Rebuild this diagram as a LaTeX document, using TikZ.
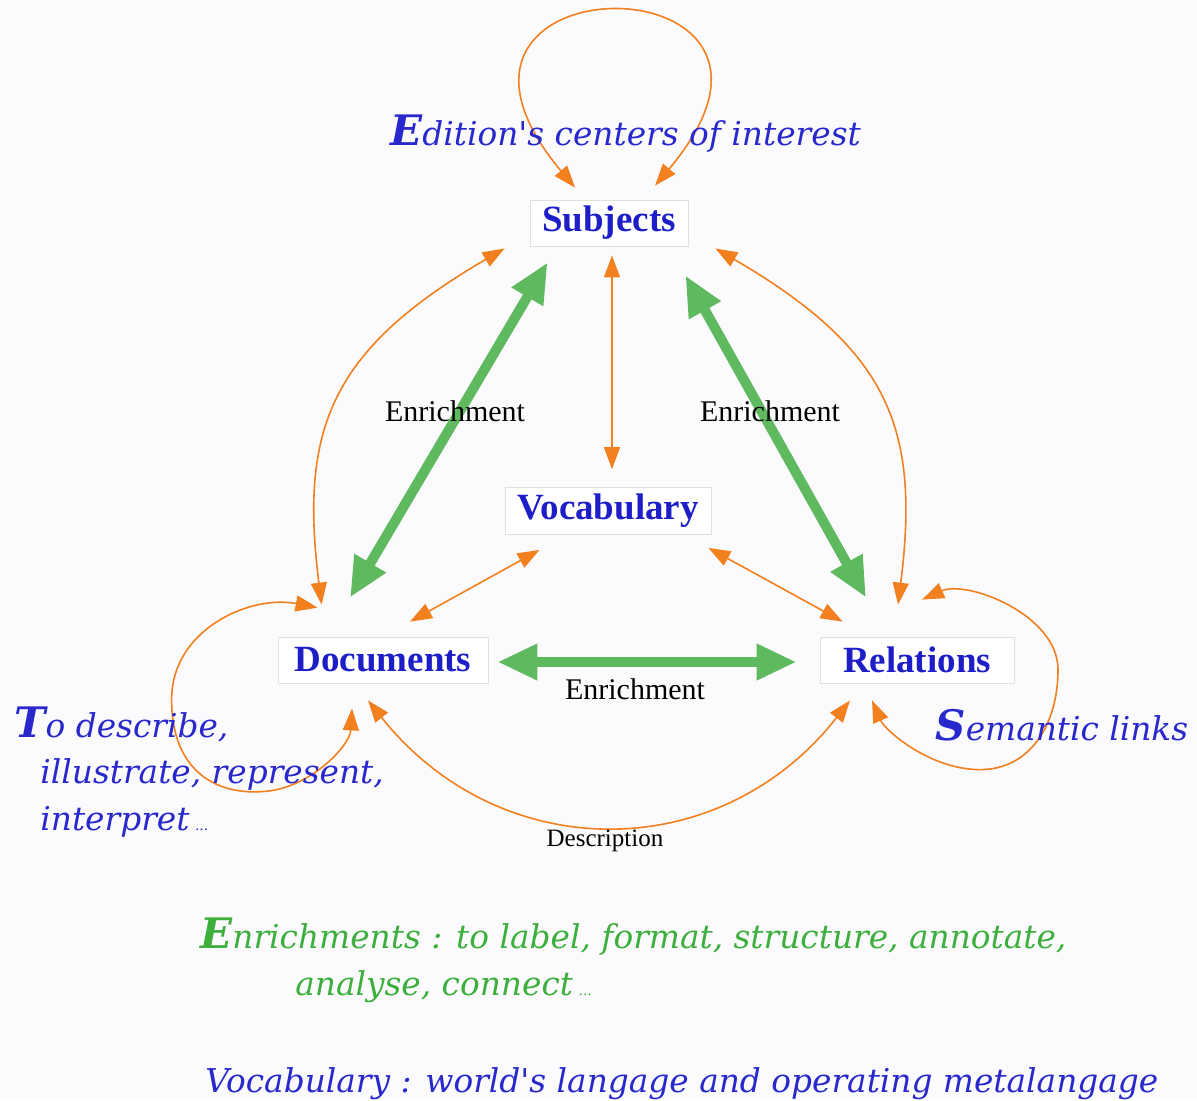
\documentclass[tikz,border=0pt]{standalone}
\usepackage{fontspec}
\setmainfont{Liberation Serif}
\newfontfamily\wideit{DejaVu Serif}
\usetikzlibrary{arrows.meta}
\definecolor{nodeblue}{RGB}{30,30,200}
\definecolor{itblue}{RGB}{40,40,205}
\definecolor{arrorange}{RGB}{242,128,30}
\definecolor{arrgreen}{RGB}{95,185,95}
\definecolor{txtgreen}{RGB}{60,175,60}
\definecolor{bggray}{RGB}{251,251,253}
\tikzset{
  concept/.style={draw=black!12, fill=white, inner sep=0pt,
    font=\fontsize{18.5}{20}\selectfont\bfseries, text=nodeblue},
  orarrow/.style={draw=arrorange, line width=0.8pt,
    {Triangle[length=11pt,width=8pt]}-{Triangle[length=11pt,width=8pt]}},
  grarrow/.style={draw=arrgreen, line width=5pt,
    {Triangle[length=20pt,width=17pt]}-{Triangle[length=20pt,width=17pt]}},
  note/.style={font=\wideit\itshape\fontsize{16.4}{18}\selectfont,
    text=itblue, inner sep=0pt, anchor=base west},
  flowlabel/.style={font=\fontsize{15}{17}\selectfont, inner sep=0pt},
}
\newcommand*{\initial}[1]{{\fontsize{21}{22}\selectfont\bfseries #1}}
\newcommand*{\smalldots}{\,{\scriptsize...}}

\begin{document}
\begin{tikzpicture}[x=0.5pt,y=-0.5pt]
\useasboundingbox[fill=bggray] (0,0) rectangle (1197,1100);
\node[concept, minimum width=79pt, minimum height=23pt] (subj) at (609,223) {Subjects};
\node[concept, minimum width=103pt, minimum height=23.5pt] (voc) at (608,511) {Vocabulary};
\node[concept, minimum width=105pt, minimum height=23pt] (doc) at (383,660) {Documents};
\node[concept, minimum width=97pt, minimum height=23pt] (rel) at (917,660) {Relations};

\draw[orarrow] ([shift={(-34,-12)}]subj.north) .. controls +(-195,-233) and +(195,-231) .. ([shift={(46,-14)}]subj.north);
\draw[orarrow] ([shift={(-25,2)}]subj.south west) .. controls +(-175,102) and +(-22,-175) .. ([shift={(44,-32)}]doc.north west);
\draw[orarrow] ([shift={(27,2)}]subj.south east) .. controls +(175,102) and +(22,-175) .. ([shift={(-19,-32)}]rel.north);
\draw[orarrow] ([shift={(3,9)}]subj.south) -- ([shift={(4,-18)}]voc.north);
\draw[orarrow] ([shift={(35,15)}]voc.south west) -- ([shift={(27,-15)}]doc.north);
\draw[orarrow] ([shift={(-3,13)}]voc.south east) -- ([shift={(23,-15)}]rel.north west);
\draw[orarrow] ([shift={(40,-29)}]doc.north west) .. controls +(-68,-13) and +(0,-70) .. ++(-146,92)
  .. controls +(0,70) and +(-47,3) .. ++(90,92)
  .. controls +(48,-2) and +(-2,37) .. ([shift={(-31,25)}]doc.south);
\draw[orarrow] ([shift={(5,-37)}]rel.north) .. controls +(45,-20) and +(0,-55) .. ++(136,70)
  .. controls +(0,55) and +(50,0) .. ++(-78,100)
  .. controls +(-50,0) and +(13,30) .. ([shift={(-45,17)}]rel.south);
\draw[orarrow] ([shift={(-15,17)}]doc.south) .. controls +(132,166) and +(-130,166) .. ([shift={(-67,17)}]rel.south);

\draw[grarrow] ([shift={(-33,-39)}]doc.north) -- ([shift={(18,16)}]subj.south west);
\draw[grarrow] ([shift={(-51,-39)}]rel.north) -- ([shift={(-3,29)}]subj.south east);
\draw[grarrow] ([shift={(9,2)}]doc.east) -- ([shift={(-23,2)}]rel.west);

\node[flowlabel] (enrL) at (455,411) {Enrichment};
\node[flowlabel] (enrR) at (770,411) {Enrichment};
\node[flowlabel] (enrB) at (635,689) {Enrichment};
\node[flowlabel, font=\fontsize{12.5}{14}\selectfont] (descr) at (605,841) {Description};

\node[note] (edition) at (390,145) {\initial{E}dition's centers of interest};
\node[note] (describe) at (14,737) {\initial{T}o describe,};
\node[note] (illustrate) at (40,783) {illustrate, represent,};
\node[note] (interpret) at (40,830) {interpret\smalldots};
\node[note] (semantic) at (935,740) {\initial{S}emantic links};
\node[note, text=txtgreen] (enrich) at (200,948) {\initial{E}nrichments : to label, format, structure, annotate,};
\node[note, text=txtgreen] (analyse) at (295,995) {analyse, connect\smalldots};
\node[note] (vocab) at (205,1092) {Vocabulary : world's langage and operating metalangage};
\end{tikzpicture}
\end{document}
